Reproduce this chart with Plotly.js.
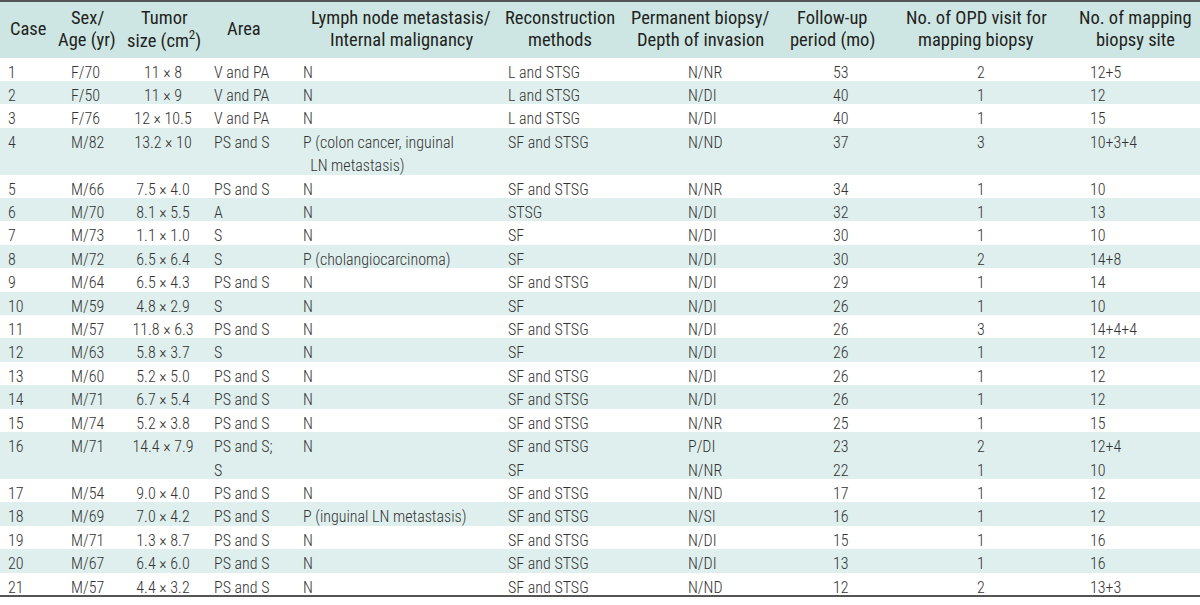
<!DOCTYPE html>
<html>
<head>
<meta charset="utf-8">
<script src="https://cdn.plot.ly/plotly-3.0.1.min.js"></script>
<style>html,body{margin:0;padding:0;background:#fff;}#chart{width:1200px;height:605px;}</style>
</head>
<body>
<div id="chart"></div>
<script>
// ---- data ----
const headerLabels = ['Case', 'Sex/<br>Age (yr)', 'Tumor<br>size (cm<sup>2</sup>)', 'Area',
  'Lymph node metastasis/<br>Internal malignancy', 'Reconstruction<br>methods',
  'Permanent biopsy/<br>Depth of invasion', 'Follow-up<br>period (mo)',
  'No. of OPD visit for<br>mapping biopsy', 'No. of mapping<br>biopsy site'];
const cases = ['1','2','3','4','5','6','7','8','9','10','11','12','13','14','15','16','17','18','19','20','21'];
const sexAge = ['F/70','F/50','F/76','M/82','M/66','M/70','M/73','M/72','M/64','M/59','M/57','M/63','M/60','M/71','M/74','M/71','M/54','M/69','M/71','M/67','M/57'];
const tumorSize = ['11 × 8','11 × 9','12 × 10.5','13.2 × 10','7.5 × 4.0','8.1 × 5.5','1.1 × 1.0','6.5 × 6.4','6.5 × 4.3','4.8 × 2.9','11.8 × 6.3','5.8 × 3.7','5.2 × 5.0','6.7 × 5.4','5.2 × 3.8','14.4 × 7.9','9.0 × 4.0','7.0 × 4.2','1.3 × 8.7','6.4 × 6.0','4.4 × 3.2'];
const area = ['V and PA','V and PA','V and PA','PS and S','PS and S','A','S','S','PS and S','S','PS and S','S','PS and S','PS and S','PS and S','PS and S;<br>S','PS and S','PS and S','PS and S','PS and S','PS and S'];
const lymphNode = ['N','N','N','P (colon cancer, inguinal<br>\u00a0\u00a0LN metastasis)','N','N','N','P (cholangiocarcinoma)','N','N','N','N','N','N','N','N','N','P (inguinal LN metastasis)','N','N','N'];
const reconstruction = ['L and STSG','L and STSG','L and STSG','SF and STSG','SF and STSG','STSG','SF','SF','SF and STSG','SF','SF and STSG','SF','SF and STSG','SF and STSG','SF and STSG','SF and STSG<br>SF','SF and STSG','SF and STSG','SF and STSG','SF and STSG','SF and STSG'];
const permBiopsy = ['N/NR','N/DI','N/DI','N/ND','N/NR','N/DI','N/DI','N/DI','N/DI','N/DI','N/DI','N/DI','N/DI','N/DI','N/NR','P/DI<br>N/NR','N/ND','N/SI','N/DI','N/DI','N/ND'];
const followUp = ['53','40','40','37','34','32','30','30','29','26','26','26','26','26','25','23<br>22','17','16','15','13','12'];
const opdVisits = ['2','1','1','3','1','1','1','2','1','1','3','1','1','1','1','2<br>1','1','1','1','1','2'];
const mappingSites = ['12+5','12','15','10+3+4','10','13','10','14+8','14','10','14+4+4','12','12','12','15','12+4<br>10','12','12','16','16','13+3'];

// ---- layout / style ----
const W = 1200, H = 605, headerH = 57.5, tableBottom = 596;
const colWidths = [63, 57, 86, 89, 205, 180, 145, 144, 113, 118];
const headerCenters = [28, 87, 164, 244, 401, 560, 700, 832, 976, 1135];
const colAlign = ['left','left','center','left','left','left','left','left','left','left'];
const teal = '#dfefed', headTeal = '#cde6e3';
const font = 'Roboto Condensed, Liberation Sans Narrow, DejaVu Sans Condensed, sans-serif';

// Expand each case into its printed text lines (multi-line cases span two lines, same shading).
const caseColumns = [cases, sexAge, tumorSize.map(s => s.replace(/ /g, '\u00a0')), area, lymphNode,
  reconstruction, permBiopsy, followUp, opdVisits, mappingSites];
const lineColumns = caseColumns.map(() => []);
const lineColors = [];
cases.forEach((c, i) => {
  const parts = caseColumns.map(col => String(col[i]).split('<br>'));
  const n = Math.max(...parts.map(p => p.length));
  for (let j = 0; j < n; j++) {
    parts.forEach((p, k) => lineColumns[k].push(p[j] !== undefined ? p[j] : ''));
    lineColors.push(i % 2 === 0 ? '#ffffff' : teal);
  }
});
const rowH = (tableBottom - headerH) / lineColors.length;

const trace = {
  type: 'table',
  domain: {x: [0, 1], y: [0, 1]},
  columnwidth: colWidths,
  header: {
    values: headerLabels.map(() => ' '),
    height: headerH,
    fill: {color: headTeal},
    line: {width: 0, color: headTeal},
    font: {family: font, size: 19, color: '#231f20'}
  },
  cells: {
    values: lineColumns,
    height: rowH,
    align: colAlign,
    fill: {color: [lineColors]},
    line: {width: 0, color: 'rgba(0,0,0,0)'},
    font: {family: font, size: 16, color: '#333333', weight: 300}
  }
};

// Header labels: each printed line placed separately (tight line spacing as in the source table).
const annotations = [];
headerLabels.forEach((t, i) => {
  const lines = t.split('<br>');
  const ys = lines.length === 1 ? [28.5] : [18, 39.5];
  lines.forEach((ln, j) => annotations.push({
    xref: 'paper', yref: 'paper',
    x: headerCenters[i] / W, y: 1 - ys[j] / H,
    xanchor: 'center', yanchor: 'middle',
    text: ln, showarrow: false, borderpad: 0,
    font: {family: font, size: 18.5, color: '#231f20'}
  }));
});

const layout = {
  width: W, height: H,
  margin: {l: 0, r: 0, t: 0, b: 0},
  paper_bgcolor: '#ffffff',
  annotations: annotations,
  shapes: [
    {type: 'line', xref: 'paper', yref: 'paper', x0: 0, x1: 1, y0: 1 - 1 / H, y1: 1 - 1 / H, line: {color: '#555555', width: 2}},
    {type: 'line', xref: 'paper', yref: 'paper', x0: 0, x1: 1, y0: 1 - tableBottom / H, y1: 1 - tableBottom / H, line: {color: '#555555', width: 2}}
  ]
};

Plotly.newPlot('chart', [trace], layout, {displayModeBar: false, staticPlot: true});
</script>
</body>
</html>
